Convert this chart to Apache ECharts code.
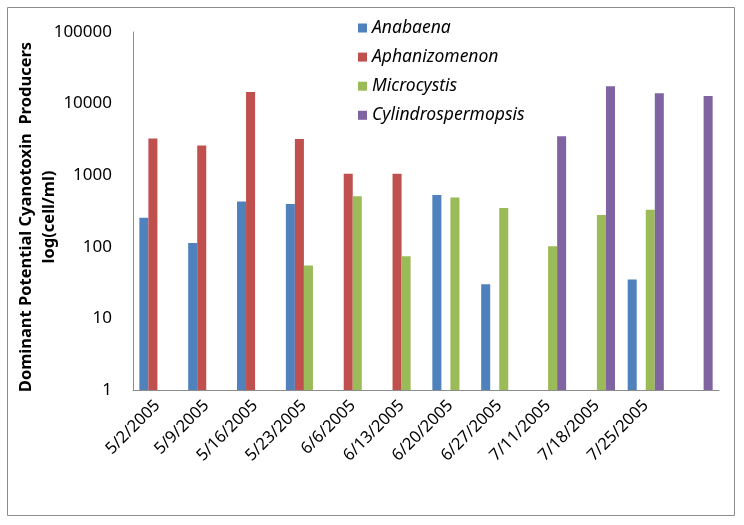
<!DOCTYPE html>
<html>
<head>
<meta charset="utf-8">
<script src="https://cdn.jsdelivr.net/npm/echarts@6/dist/echarts.min.js"></script>
<style>html,body{margin:0;padding:0;background:#fff}#c{width:744px;height:525px}</style>
</head>
<body>
<div id="c"></div>
<script>
var categories = ['5/2/2005','5/9/2005','5/16/2005','5/23/2005','6/6/2005','6/13/2005','6/20/2005','6/27/2005','7/11/2005','7/18/2005','7/25/2005',''];
var anabaena = [255, 113, 430, 395, null, null, 530, 30, null, null, 35, null];
var aphanizomenon = [3250, 2600, 14500, 3200, 1050, 1050, null, null, null, null, null, null];
var microcystis = [null, null, null, 55, 510, 74, 490, 348, 102, 277, 330, null];
var cylindrospermopsis = [null, null, null, null, null, null, null, null, 3500, 17500, 13900, 12800];
var yTicks = [1, 10, 100, 1000, 10000, 100000];

var chart = echarts.init(document.getElementById('c'));
var font = 'Noto Sans';
function bar(name, data, color) {
  return { name: name, type: 'bar', data: data, itemStyle: { color: color }, barGap: '0%', barCategoryGap: '26%' };
}
chart.setOption({
  animation: false,
  graphic: [{ type: 'rect', shape: { x: 7.5, y: 7.5, width: 727, height: 508 }, style: { fill: 'none', stroke: '#8c8c8c', lineWidth: 1 } }],
  legend: {
    orient: 'vertical', left: 358, top: 19, padding: 0, itemWidth: 9, itemHeight: 9, itemGap: 11.1,
    icon: 'rect',
    textStyle: { fontFamily: font, fontStyle: 'italic', fontSize: 17.5, lineHeight: 18, color: '#000' },
    data: ['Anabaena', 'Aphanizomenon', 'Microcystis', 'Cylindrospermopsis']
  },
  grid: { left: 133, right: 25, top: 32, bottom: 135, containLabel: false, outerBoundsMode: 'none' },
  xAxis: {
    type: 'category', data: categories,
    axisLine: { lineStyle: { color: '#8c8c8c' } },
    axisTick: { show: false },
    axisLabel: { rotate: 45, fontFamily: font, fontSize: 16.5, color: '#000', margin: 13, interval: 0 }
  },
  yAxis: {
    type: 'log', logBase: 10, min: 1, max: 100000,
    name: 'Dominant Potential Cyanotoxin  Producers\nlog(cell/ml)',
    nameLocation: 'middle', nameGap: 72, nameMoveOverlap: false,
    nameTextStyle: { fontFamily: font, fontWeight: 'bold', fontSize: 16.5, lineHeight: 23, color: '#000', padding: [0, 12, 0, 0] },
    axisLine: { show: true, lineStyle: { color: '#8c8c8c' } },
    axisTick: { show: false },
    splitLine: { show: false },
    axisLabel: { fontFamily: font, fontSize: 17, color: '#000', margin: 21, formatter: function (v) { return String(Math.round(v)); } }
  },
  series: [
    bar('Anabaena', anabaena, '#4F81BD'),
    bar('Aphanizomenon', aphanizomenon, '#C0504D'),
    bar('Microcystis', microcystis, '#9BBB59'),
    bar('Cylindrospermopsis', cylindrospermopsis, '#8064A2')
  ]
});
</script>
</body>
</html>
